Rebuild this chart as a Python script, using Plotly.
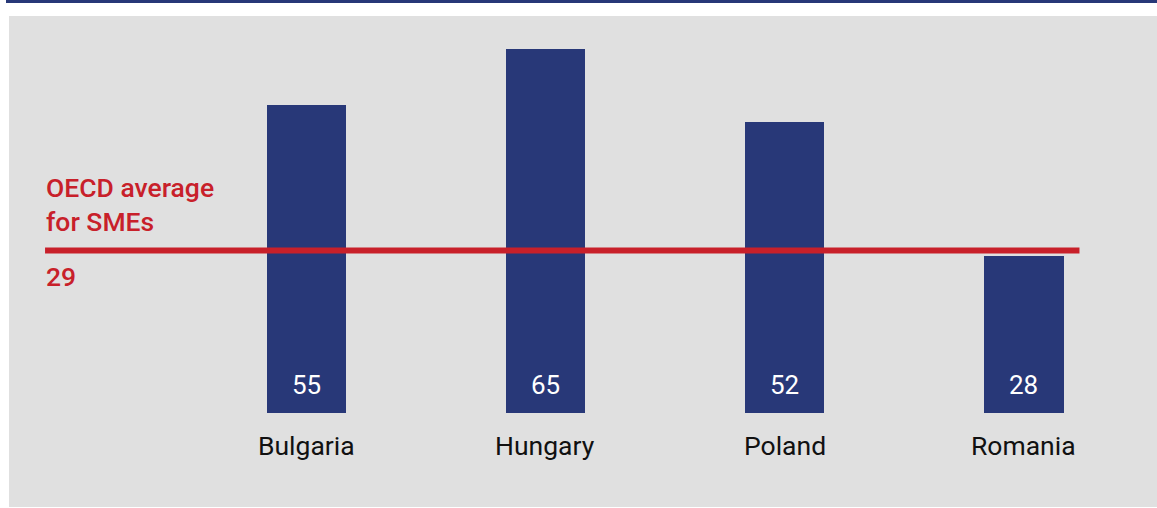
import plotly.graph_objects as go

categories = ["Bulgaria", "Hungary", "Poland", "Romania"]
values = [55, 65, 52, 28]
oecd_avg = 29
oecd_label = "OECD average<br>for SMEs"

NAVY = "#283878"
RED = "#c8202a"
GREY = "#e0e0e0"
FONT = "Roboto"

fig = go.Figure()
fig.add_trace(go.Bar(
    x=list(range(len(categories))), y=values,
    marker=dict(color=NAVY, line=dict(width=0)),
    width=0.331, hoverinfo="skip", showlegend=False,
))

# background panel and top rule
fig.add_shape(type="rect", xref="paper", yref="paper",
              x0=9/1157, x1=1, y0=1-507/508, y1=1-16/508,
              fillcolor=GREY, line=dict(width=0), layer="below")
fig.add_shape(type="rect", xref="paper", yref="paper",
              x0=6/1157, x1=1, y0=1-3/508, y1=1,
              fillcolor=NAVY, line=dict(width=0), layer="below")

# OECD average line
x_left, x_right = -1.0917, 3.232
fig.add_shape(type="line", x0=x_left, x1=x_right, y0=oecd_avg, y1=oecd_avg,
              line=dict(color=RED, width=6), layer="above")

fig.add_annotation(x=x_left, y=oecd_avg, text=oecd_label, showarrow=False,
                   xanchor="left", yanchor="bottom", align="left",
                   xshift=-1, yshift=11,
                   font=dict(family=FONT, size=26.5, color=RED, weight=500))
fig.add_annotation(x=x_left, y=oecd_avg, text=str(oecd_avg), showarrow=False,
                   xanchor="left", yanchor="top", align="left",
                   xshift=-1, yshift=-9,
                   font=dict(family=FONT, size=26.5, color=RED, weight=500))

for i, (c, v) in enumerate(zip(categories, values)):
    fig.add_annotation(x=i, y=0, text=str(v), showarrow=False,
                       xanchor="center", yanchor="bottom", yshift=11,
                       font=dict(family=FONT, size=26, color="white"))
    fig.add_annotation(x=i, y=0, text=c, showarrow=False,
                       xanchor="center", yanchor="top", yshift=-15,
                       font=dict(family=FONT, size=26.5, color="#111111"))

fig.update_layout(
    width=1157, height=508,
    margin=dict(l=0, r=0, t=0, b=0),
    paper_bgcolor="white", plot_bgcolor="rgba(0,0,0,0)",
    xaxis=dict(range=[-1.2800, 3.5560], visible=False, fixedrange=True),
    yaxis=dict(range=[-17.03, 73.76], visible=False, fixedrange=True),
    bargap=0,
)

fig.write_html("out.html")
